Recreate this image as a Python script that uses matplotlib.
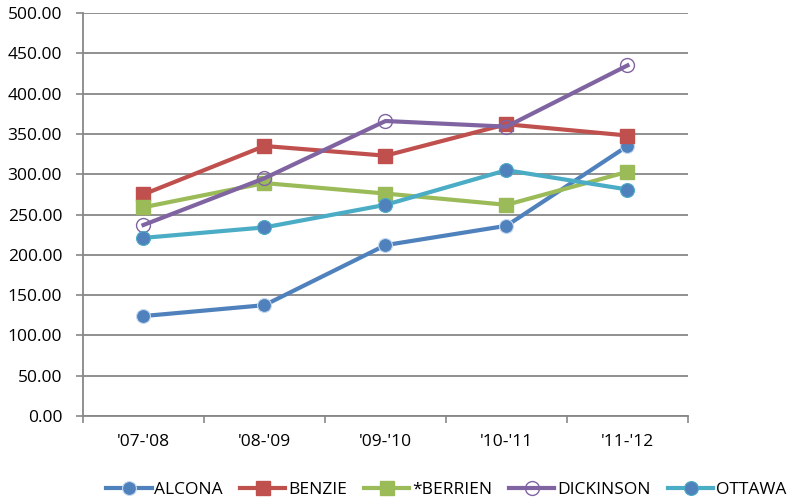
import matplotlib.pyplot as plt
import numpy as np

# school years and per-county values
anios = ["'07-'08", "'08-'09", "'09-'10", "'10-'11", "'11-'12"]
alcona = [124.0, 137.5, 212.0, 236.0, 335.0]
benzie = [275.0, 335.0, 323.0, 362.0, 348.0]
berrien = [259.0, 289.0, 276.0, 262.0, 303.0]
dickinson = [237.0, 295.0, 366.0, 359.0, 435.0]
ottawa = [221.0, 234.0, 262.0, 305.0, 281.0]

plt.rcParams['font.family'] = ['Open Sans', 'DejaVu Sans']

fig = plt.figure(figsize=(7.94, 5.01), dpi=100)
ax = fig.add_axes([0.1045, 0.1697, 0.762, 0.8043])

x = np.arange(len(anios))
gris = "#878787"

ax.plot(x, alcona, color="#4F81BD", lw=3, marker="o", ms=10,
        mfc="#4F81BD", mec="#C6D9F1", mew=0.8, label="ALCONA", zorder=3)
ax.plot(x, benzie, color="#C0504D", lw=3, marker="s", ms=10,
        mfc="#C0504D", mec="#C0504D", label="BENZIE", zorder=3)
ax.plot(x, berrien, color="#9BBB59", lw=3, marker="s", ms=10,
        mfc="#9BBB59", mec="#9BBB59", label="*BERRIEN", zorder=3)
ax.plot(x, dickinson, color="#8064A2", lw=3, marker="o", ms=10,
        mfc="none", mec="#8064A2", mew=1, label="DICKINSON", zorder=3)
ax.plot(x, ottawa, color="#4BACC6", lw=3, marker="o", ms=10,
        mfc="#4F81BD", mec="#4BACC6", mew=0.8, label="OTTAWA", zorder=3)

ax.set_xlim(-0.5, len(anios) - 0.5)
ax.set_ylim(0, 500)
ax.set_yticks(np.arange(0, 501, 50))
ax.set_yticklabels([f"{v:.2f}" for v in np.arange(0, 501, 50)], fontsize=12.5)
ax.set_xticks(x)
ax.set_xticklabels(anios, fontsize=12.5)
ax.set_xticks(np.arange(-0.5, len(anios), 1), minor=True)
ax.tick_params(axis="x", which="major", length=0, pad=13)
ax.tick_params(axis="x", which="minor", length=5, color=gris, width=1.2)
ax.tick_params(axis="y", length=5, color=gris, width=1.2, pad=10)

ax.grid(axis="y", color=gris, lw=1.3)
ax.set_axisbelow(True)
for lado in ["top", "right"]:
    ax.spines[lado].set_visible(False)
ax.spines["left"].set_color(gris)
ax.spines["left"].set_linewidth(1.3)
ax.spines["bottom"].set_color(gris)
ax.spines["bottom"].set_linewidth(1.3)

fig.legend(loc="lower center", bbox_to_anchor=(0.562, -0.025), ncol=5,
           frameon=False, fontsize=12.5, handlelength=2.6, columnspacing=1.0,
           handletextpad=0.15)

fig.savefig("out.png", dpi=100)
